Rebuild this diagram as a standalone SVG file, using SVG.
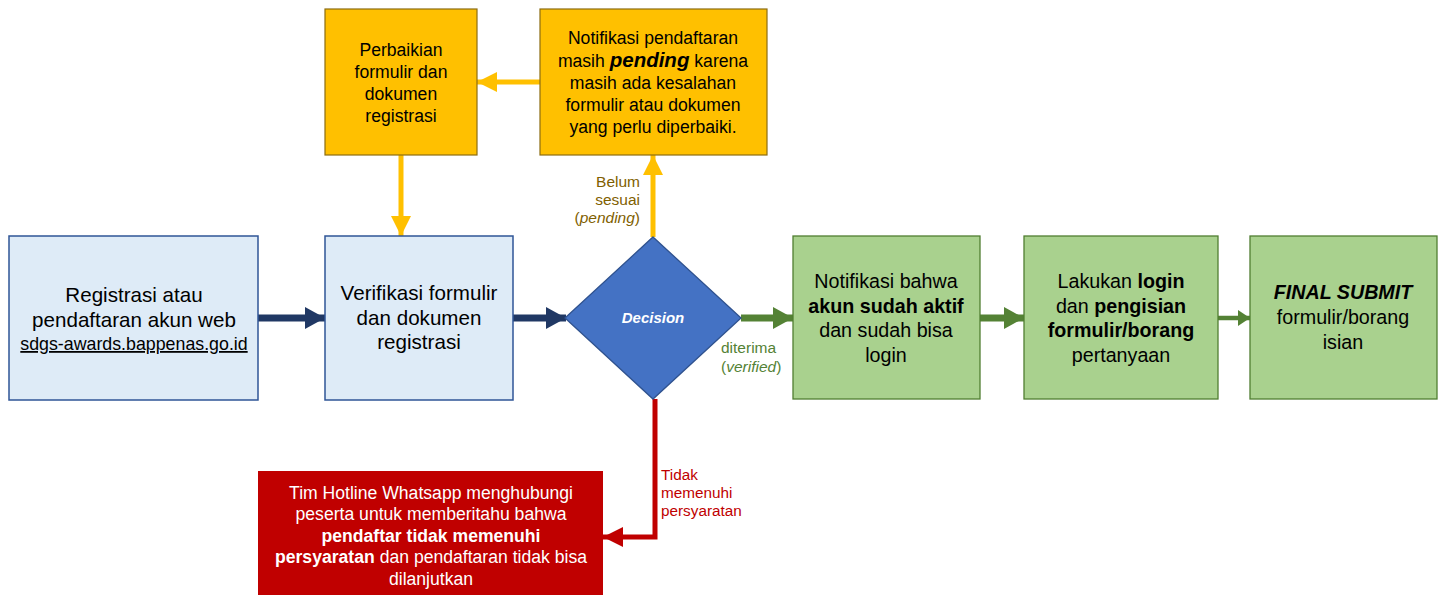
<svg xmlns="http://www.w3.org/2000/svg" width="1440" height="595" viewBox="0 0 1440 595">
<style>
text{font-family:"Liberation Sans",Arial,sans-serif;text-anchor:middle}
.blue{fill:#DEEBF7;stroke:#2F5597;stroke-width:1.5}
.yel{fill:#FFC000;stroke:#8C6D12;stroke-width:1.2}
.grn{fill:#A9D18E;stroke:#507E32;stroke-width:1.3}
.t20{font-size:20.6px;fill:#000}
.t16{font-size:17.6px;fill:#000}
.g20{font-size:19.7px;fill:#000}
.w16{font-size:17.6px;fill:#fff}
.b{font-weight:bold}
.lbl{font-size:15.5px}
</style>
<defs>
<marker id="mNavy" markerUnits="userSpaceOnUse" markerWidth="20" markerHeight="22" refX="20" refY="11" orient="auto"><path d="M0,0 L20,11 L0,22 Z" fill="#203864"/></marker>
<marker id="mGreen" markerUnits="userSpaceOnUse" markerWidth="20" markerHeight="22" refX="20" refY="11" orient="auto"><path d="M0,0 L20,11 L0,22 Z" fill="#548235"/></marker>
<marker id="mGreenS" markerUnits="userSpaceOnUse" markerWidth="12" markerHeight="16" refX="12" refY="8" orient="auto"><path d="M0,0 L12,8 L0,16 Z" fill="#548235"/></marker>
<marker id="mYel" markerUnits="userSpaceOnUse" markerWidth="20" markerHeight="20" refX="20" refY="10" orient="auto"><path d="M0,0 L20,10 L0,20 Z" fill="#FFC000"/></marker>
<marker id="mRed" markerUnits="userSpaceOnUse" markerWidth="20" markerHeight="20" refX="20" refY="10" orient="auto"><path d="M0,0 L20,10 L0,20 Z" fill="#C00000"/></marker>
</defs>

<g id="connectors" fill="none">
<line x1="258" y1="318" x2="325" y2="318" stroke="#203864" stroke-width="7" marker-end="url(#mNavy)"/>
<line x1="513" y1="318" x2="566" y2="318" stroke="#203864" stroke-width="7" marker-end="url(#mNavy)"/>
<line x1="653" y1="237" x2="653" y2="155" stroke="#FFC000" stroke-width="5" marker-end="url(#mYel)"/>
<line x1="540" y1="82" x2="477" y2="82" stroke="#FFC000" stroke-width="5" marker-end="url(#mYel)"/>
<line x1="401" y1="155" x2="401" y2="236" stroke="#FFC000" stroke-width="5" marker-end="url(#mYel)"/>
<line x1="741" y1="318" x2="793" y2="318" stroke="#548235" stroke-width="7" marker-end="url(#mGreen)"/>
<line x1="980" y1="318" x2="1024" y2="318" stroke="#548235" stroke-width="7" marker-end="url(#mGreen)"/>
<line x1="1218" y1="318" x2="1250" y2="318" stroke="#548235" stroke-width="4.5" marker-end="url(#mGreenS)"/>
<polyline points="655,399 655,537 603,537" stroke="#C00000" stroke-width="5" marker-end="url(#mRed)"/>
<g class="lbl" fill="#7F6000">
<text x="640" y="187" style="text-anchor:end">Belum</text>
<text x="640" y="205" style="text-anchor:end">sesuai</text>
<text x="640" y="223" style="text-anchor:end">(<tspan font-style="italic">pending</tspan>)</text>
</g>
<g class="lbl" fill="#548235">
<text x="721" y="353" style="text-anchor:start">diterima</text>
<text x="721" y="372" style="text-anchor:start">(<tspan font-style="italic">verified</tspan>)</text>
</g>
<g font-size="15.3" fill="#C00000">
<text x="661" y="480" style="text-anchor:start">Tidak</text>
<text x="661" y="498" style="text-anchor:start">memenuhi</text>
<text x="661" y="516" style="text-anchor:start">persyaratan</text>
</g>
</g>

<g id="node-registrasi">
<rect class="blue" x="9" y="236" width="249" height="164"/>
<text class="t20" x="134" y="302">Registrasi atau</text>
<text class="t20" x="134" y="327">pendaftaran akun web</text>
<text x="134" y="350" font-size="17.8" text-decoration="underline" fill="#000">sdgs-awards.bappenas.go.id</text>
</g>

<g id="node-verifikasi">
<rect class="blue" x="325" y="236" width="188" height="164"/>
<text class="t20" x="419" y="300">Verifikasi formulir</text>
<text class="t20" x="419" y="325">dan dokumen</text>
<text class="t20" x="419" y="349">registrasi</text>
</g>

<g id="node-decision">
<polygon points="653,237 741,318 653,399 565,318" fill="#4472C4" stroke="#2F528F" stroke-width="1.3"/>
<text x="653" y="323" font-size="15" font-weight="bold" font-style="italic" fill="#fff">Decision</text>
</g>

<g id="node-perbaikan">
<rect class="yel" x="325" y="9" width="152" height="146"/>
<text class="t16" x="401" y="56">Perbaikian</text>
<text class="t16" x="401" y="78">formulir dan</text>
<text class="t16" x="401" y="100">dokumen</text>
<text class="t16" x="401" y="122">registrasi</text>
</g>

<g id="node-pending">
<rect class="yel" x="540" y="9" width="227" height="146"/>
<text class="t16" x="653" y="44">Notifikasi pendaftaran</text>
<text class="t16" x="653" y="67">masih <tspan font-size="20.5" font-weight="bold" font-style="italic">pending</tspan> karena</text>
<text class="t16" x="653" y="89">masih ada kesalahan</text>
<text class="t16" x="653" y="111">formulir atau dokumen</text>
<text class="t16" x="653" y="133">yang perlu diperbaiki.</text>
</g>

<g id="node-aktif">
<rect class="grn" x="793" y="236" width="187" height="163"/>
<text class="g20" x="886" y="288">Notifikasi bahwa</text>
<text class="g20 b" x="886" y="313">akun sudah aktif</text>
<text class="g20" x="886" y="337">dan sudah bisa</text>
<text class="g20" x="886" y="362">login</text>
</g>

<g id="node-login">
<rect class="grn" x="1024" y="236" width="194" height="163"/>
<text class="g20" x="1121" y="288">Lakukan <tspan font-weight="bold">login</tspan></text>
<text class="g20" x="1121" y="313">dan <tspan font-weight="bold">pengisian</tspan></text>
<text class="g20 b" x="1121" y="337">formulir/borang</text>
<text class="g20" x="1121" y="362">pertanyaan</text>
</g>

<g id="node-final">
<rect class="grn" x="1250" y="236" width="187" height="163"/>
<text class="g20 b" x="1343" y="299" font-style="italic">FINAL SUBMIT</text>
<text class="g20" x="1343" y="324">formulir/borang</text>
<text class="g20" x="1343" y="349">isian</text>
</g>

<g id="node-hotline">
<rect x="258" y="471" width="345" height="130" fill="#C00000"/>
<text class="w16" x="431" y="499">Tim Hotline Whatsapp menghubungi</text>
<text class="w16" x="431" y="520">peserta untuk memberitahu bahwa</text>
<text class="w16 b" x="431" y="542">pendaftar tidak memenuhi</text>
<text class="w16" x="431" y="563"><tspan font-weight="bold">persyaratan</tspan> dan pendaftaran tidak bisa</text>
<text class="w16" x="431" y="585">dilanjutkan</text>
</g>
</svg>
